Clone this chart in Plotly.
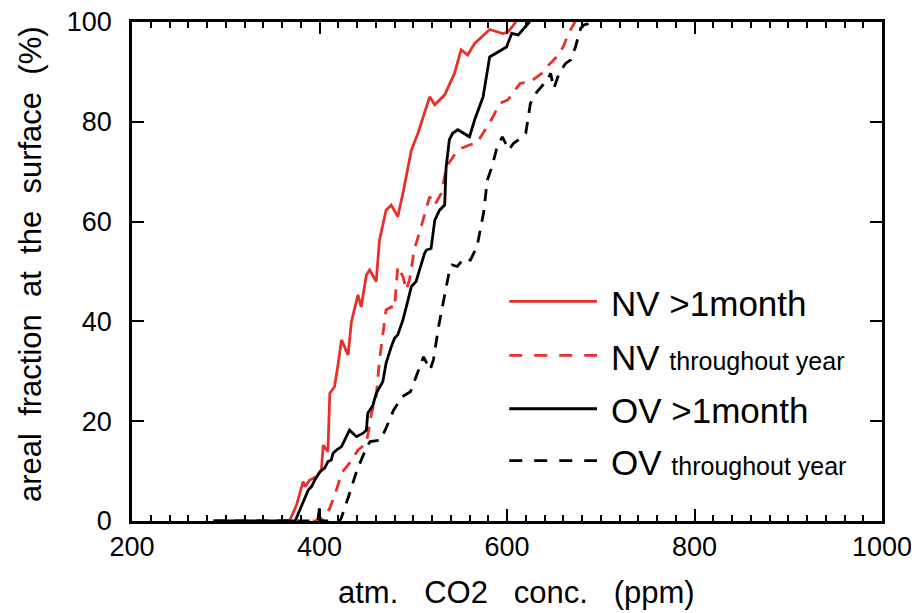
import plotly.graph_objects as go

# ---- data ----
nv1_x = [362, 368, 375.5, 382.5, 384.5, 389.5, 397, 402, 404, 409,
         411, 416, 420, 423.5, 430.5, 434, 441, 444.5, 450, 453.5,
         460.5, 464, 471, 476.5, 483.5, 489, 498, 505, 517.5, 523,
         533.5, 540.5, 544, 551, 558, 565.5, 581.5, 595.5, 601, 609.5]
nv1_y = [0, 0, 3.2, 7.9, 6.9, 8.2, 8.9, 10.2, 15.2, 13.9,
         25.6, 26.9, 31.6, 36.3, 33.3, 39.9, 45.3, 42.9, 49.3, 50.3,
         48.0, 56.3, 62.3, 63.3, 61.0, 65.7, 74.3, 77.7, 85.0, 83.4,
         85.4, 88.4, 89.7, 94.4, 93.4, 95.7, 98.5, 97.7, 98.0, 100]

nvy_x = [393, 403, 411, 418, 423.5, 432, 441, 450, 455.5, 460.5,
         464, 467.5, 471, 476.5, 480, 482, 483.5, 489, 492.5, 496,
         499.5, 501, 510.5, 517.5, 523, 530, 535.5, 546, 551.5, 560.5,
         567.5, 574.5, 585, 592.5, 601, 605, 614, 624.5, 637, 642.5,
         653, 660, 665.5, 672.5]
nvy_y = [0, 0, 2.6, 6.2, 9.6, 11.6, 14.2, 15.6, 21.6, 24.9,
         32.3, 37.6, 42.3, 42.9, 42.6, 47.6, 51.0, 49.0, 46.3, 48.3,
         53.0, 54.3, 60.3, 65.0, 63.3, 65.7, 71.0, 74.0, 74.7, 75.4,
         75.7, 77.7, 81.0, 83.7, 84.4, 85.4, 87.7, 88.0, 89.7, 91.0,
         93.0, 95.0, 97.7, 100]

ov1_x = [287, 374, 379, 384.5, 388, 391.5, 395, 400.5, 405.5, 409,
         412.5, 414.5, 418, 423.5, 427, 432, 439.5, 446.5, 450, 451.5,
         457, 460.5, 467.5, 471, 476.5, 480, 483.5, 489, 494.5, 498,
         503, 506.5, 512, 514, 519, 523, 528, 533.5, 535, 538.5,
         542, 547.5, 560, 565.5, 574.5, 581.5, 590.5, 599.5, 605, 612,
         622.5, 624.5]
ov1_y = [0, 0, 2.2, 4.5, 6.2, 6.9, 8.2, 9.9, 10.6, 11.9,
         12.2, 13.6, 14.2, 14.9, 16.2, 18.2, 16.9, 17.6, 18.2, 21.6,
         23.2, 25.6, 27.9, 31.6, 34.9, 36.6, 37.3, 40.3, 44.3, 47.0,
         48.0, 50.3, 53.6, 54.3, 54.6, 60.3, 62.3, 63.3, 70.7, 76.4,
         77.7, 78.4, 77.0, 80.4, 85.0, 93.0, 94.0, 95.0, 97.7, 97.4,
         99.7, 100]

ovy_x = [287, 398, 400, 401, 421, 423, 431, 440, 450.5, 454,
         465, 470, 479, 488, 497, 504, 511, 514.5, 518, 521.5,
         527, 532.5, 538, 541.5, 547, 554, 561, 568, 575, 579,
         584, 589.5, 595, 602, 607, 614.5, 620, 625, 632, 643,
         646.5, 650, 655.5, 662.5, 668, 673, 678.5, 682, 692.5]
ovy_y = [0, 0, 2.6, 0, 0, 0.5, 4.9, 10.2, 14.9, 15.9,
         16.2, 18.2, 22.2, 24.9, 25.9, 29.6, 32.9, 31.6, 30.3, 32.3,
         38.9, 44.3, 49.6, 51.3, 51.0, 52.6, 52.3, 55.0, 61.7, 68.3,
         71.0, 75.0, 77.0, 74.4, 75.7, 76.7, 77.7, 83.7, 86.0, 88.4,
         89.7, 86.7, 89.7, 91.7, 92.4, 95.0, 98.7, 99.4, 100]

legend_main = ["NV >1month", "NV", "OV >1month", "OV"]
legend_sub = ["", "throughout year", "", "throughout year"]

x_ticks = [200, 400, 600, 800, 1000]
y_ticks = [0, 20, 40, 60, 80, 100]

x_title = "atm.\u00a0\u00a0\u00a0CO2\u00a0\u00a0\u00a0conc.\u00a0\u00a0\u00a0(ppm)"
y_title = "areal\u00a0\u00a0fraction\u00a0\u00a0at\u00a0\u00a0the\u00a0\u00a0surface\u00a0\u00a0(%)"

RED = "#e8302a"
BLACK = "#000000"
FONT = "Liberation Sans"

series = [
    (nv1_x, nv1_y, RED, "solid"),
    (nvy_x, nvy_y, RED, "12px,9px"),
    (ov1_x, ov1_y, BLACK, "solid"),
    (ovy_x, ovy_y, BLACK, "12px,9px"),
]

fig = go.Figure()
for xs, ys, col, dash in series:
    fig.add_trace(go.Scatter(x=xs, y=ys, mode="lines",
                             line=dict(color=col, width=2.8, dash=dash),
                             showlegend=False, hoverinfo="skip"))

# ---- manual legend ----
leg_y = [0.440, 0.332, 0.225, 0.121]
leg_styles = [(RED, "solid"), (RED, "13px,12px"), (BLACK, "solid"), (BLACK, "13px,12px")]
for i, yy in enumerate(leg_y):
    col, dash = leg_styles[i]
    fig.add_shape(type="line", xref="paper", yref="paper",
                  x0=0.503, x1=0.620, y0=yy, y1=yy,
                  line=dict(color=col, width=2.8, dash=dash))
    txt = legend_main[i]
    if legend_sub[i]:
        txt += " <span style='font-size:25px'>" + legend_sub[i] + "</span>"
    fig.add_annotation(xref="paper", yref="paper", x=0.636, y=yy - 0.004,
                       xanchor="left", yanchor="middle", text=txt,
                       showarrow=False, font=dict(family=FONT, size=35, color="black"))

# axis titles as annotations (exact placement)
fig.add_annotation(xref="paper", yref="paper", x=0.513, y=-0.144,
                   xanchor="center", yanchor="middle", text=x_title, showarrow=False,
                   font=dict(family=FONT, size=31, color="black"))
fig.add_annotation(xref="paper", yref="paper", x=-0.136, y=0.515,
                   xanchor="center", yanchor="middle", text=y_title, showarrow=False,
                   textangle=-90, font=dict(family=FONT, size=31, color="black"))

axis_common = dict(
    showline=True, linecolor="black", linewidth=2.5, mirror="allticks",
    ticks="inside", ticklen=12, tickwidth=2, tickcolor="black",
    showgrid=False, zeroline=False, automargin=False,
    ticklabeloverflow="allow",
    tickfont=dict(family=FONT, size=27, color="black"),
)

# the page body adds an 8px offset, so the figure is 8px smaller than the window
fig.update_layout(
    width=911, height=605,
    margin=dict(l=124, r=37, t=14, b=92),
    paper_bgcolor="white", plot_bgcolor="white",
    xaxis=dict(range=[200, 1000], tickvals=x_ticks,
               minor=dict(dtick=20, ticks="inside", ticklen=6, tickwidth=1.5, tickcolor="black"),
               ticklabelstandoff=0,
               **axis_common),
    yaxis=dict(range=[0, 100], tickvals=y_ticks,
               ticklabelstandoff=12,
               **axis_common),
)

fig.write_html("out.html")
